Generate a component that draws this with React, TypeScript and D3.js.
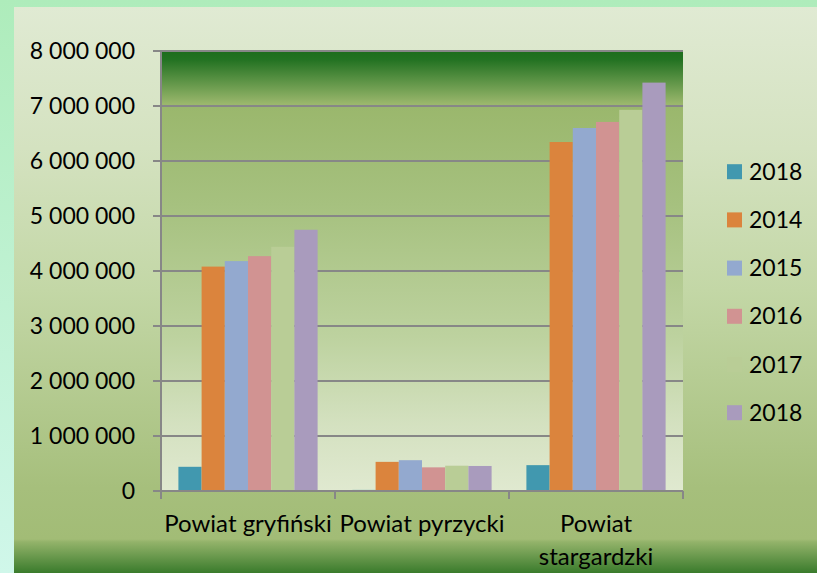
import React, { useRef, useEffect } from 'react';
import * as d3 from 'd3';

const categories = ['Powiat gryfiński', 'Powiat pyrzycki', 'Powiat stargardzki'];
const seriesNames = ['2018', '2014', '2015', '2016', '2017', '2018'];
const seriesColors = ['#4198af', '#db843d', '#93a9cf', '#d19392', '#b9cd96', '#a99bbd'];
// one array per series, one value per category
const values2018a = [440000, 20000, 470000];
const values2014 = [4080000, 530000, 6345000];
const values2015 = [4180000, 560000, 6600000];
const values2016 = [4270000, 430000, 6710000];
const values2017 = [4440000, 460000, 6930000];
const values2018b = [4750000, 455000, 7425000];
const yTicks = [0, 1000000, 2000000, 3000000, 4000000, 5000000, 6000000, 7000000, 8000000];

const seriesValues = [values2018a, values2014, values2015, values2016, values2017, values2018b];

const W = 817;
const H = 573;
const FONT = 'Lato, "Open Sans", sans-serif';

const App = () => {
  const svgRef = useRef<SVGSVGElement>(null);

  useEffect(() => {
    const svg = d3.select(svgRef.current);
    svg.selectAll('*').remove();

    const margin = { top: 51, right: 134, bottom: 82, left: 161 };
    const plotW = W - margin.left - margin.right;
    const plotBottom = H - margin.bottom;

    const defs = svg.append('defs');
    const grad = (id: string, stops: [number, string][]) => {
      const g = defs.append('linearGradient').attr('id', id)
        .attr('x1', 0).attr('y1', 0).attr('x2', 0).attr('y2', 1);
      stops.forEach(([o, c]) => g.append('stop').attr('offset', o).attr('stop-color', c));
    };
    grad('outerBg', [[0, '#aeecbb'], [1, '#d0f7ea']]);
    grad('chartBg', [
      [0, '#e0ead3'], [0.25, '#d4e2c0'], [0.5, '#c3d7a6'], [0.85, '#a6bf7c'],
      [0.94, '#a2bc76'], [0.945, '#93b36a'], [1, '#3a7b2c'],
    ]);
    grad('plotBg', [
      [0, '#1d6d1c'], [0.02, '#237222'], [0.12, '#9ab76c'], [0.35, '#a6c17f'],
      [0.65, '#bdd29f'], [0.85, '#d4e1c0'], [1, '#e0e9d0'],
    ]);

    svg.append('rect').attr('width', W).attr('height', H).attr('fill', 'url(#outerBg)');
    svg.append('rect').attr('x', 14).attr('y', 7).attr('width', W - 14).attr('height', H - 7)
      .attr('fill', 'url(#chartBg)');

    const x0 = d3.scaleBand<string>()
      .domain(categories)
      .range([margin.left, margin.left + plotW]);
    const x1 = d3.scaleBand<number>()
      .domain(d3.range(seriesNames.length))
      .range([0, x0.bandwidth()])
      .paddingOuter(0.75);
    const y = d3.scaleLinear().domain([0, 8000000]).range([plotBottom, margin.top]);

    svg.append('rect')
      .attr('x', margin.left).attr('y', margin.top)
      .attr('width', plotW).attr('height', plotBottom - margin.top)
      .attr('fill', 'url(#plotBg)');

    const fmt = (v: number) => d3.format(',')(v).replace(/,/g, ' ');

    // gridlines
    svg.append('g').selectAll('line').data(yTicks).enter().append('line')
      .attr('x1', margin.left - 8).attr('x2', margin.left + plotW)
      .attr('y1', d => y(d)).attr('y2', d => y(d))
      .attr('stroke', '#878787').attr('stroke-width', 2);

    // bars
    seriesValues.forEach((vals, si) => {
      svg.append('g').selectAll('rect').data(vals).enter().append('rect')
        .attr('x', (_, i) => (x0(categories[i]) as number) + (x1(si) as number))
        .attr('y', d => y(d))
        .attr('width', x1.bandwidth())
        .attr('height', d => plotBottom - y(d))
        .attr('fill', seriesColors[si]);
    });

    // axes lines
    svg.append('line')
      .attr('x1', margin.left).attr('x2', margin.left)
      .attr('y1', margin.top).attr('y2', plotBottom + 8)
      .attr('stroke', '#878787').attr('stroke-width', 2);
    svg.append('line')
      .attr('x1', margin.left - 8).attr('x2', margin.left + plotW)
      .attr('y1', plotBottom).attr('y2', plotBottom)
      .attr('stroke', '#878787').attr('stroke-width', 2);
    const xTickPos = categories.map(c => x0(c) as number).concat([margin.left + plotW]);
    svg.append('g').selectAll('line').data(xTickPos).enter().append('line')
      .attr('x1', d => d).attr('x2', d => d)
      .attr('y1', plotBottom).attr('y2', plotBottom + 8)
      .attr('stroke', '#878787').attr('stroke-width', 2);

    // y labels
    svg.append('g').selectAll('text').data(yTicks).enter().append('text')
      .attr('x', 135).attr('y', d => y(d) + 7.5)
      .attr('text-anchor', 'end')
      .style('font-family', FONT).style('font-size', '23px').attr('fill', '#000')
      .text(d => fmt(d));

    // x labels with wrapping
    const xl = svg.append('g').selectAll('text').data(categories).enter().append('text')
      .attr('x', d => (x0(d) as number) + x0.bandwidth() / 2)
      .attr('y', plotBottom + 41)
      .attr('text-anchor', 'middle')
      .style('font-family', FONT).style('font-size', '24px').attr('fill', '#000')
      .text(d => d);
    xl.each(function (d) {
      const t = d3.select(this);
      const len = (this as SVGTextElement).getComputedTextLength();
      if (len > x0.bandwidth()) {
        const cx = t.attr('x');
        const words = d.split(' ');
        t.text(null);
        words.forEach((w, i) => {
          t.append('tspan').attr('x', cx).attr('dy', i === 0 ? 0 : 33).text(w);
        });
      }
    });

    // legend
    const lg = svg.append('g').selectAll('g').data(seriesNames).enter().append('g')
      .attr('transform', (_, i) => `translate(727,${171.7 + i * 48.2})`);
    lg.append('rect').attr('x', 0).attr('y', -7.5).attr('width', 15).attr('height', 15)
      .attr('fill', (_, i) => seriesColors[i]);
    lg.append('text').attr('x', 22).attr('y', 8)
      .style('font-family', FONT).style('font-size', '23px').attr('fill', '#000')
      .text(d => d);
  }, []);

  return (
    <svg ref={svgRef} width={W} height={H}
      style={{ position: 'absolute', left: 0, top: 0, display: 'block' }} />
  );
};

export default App;
